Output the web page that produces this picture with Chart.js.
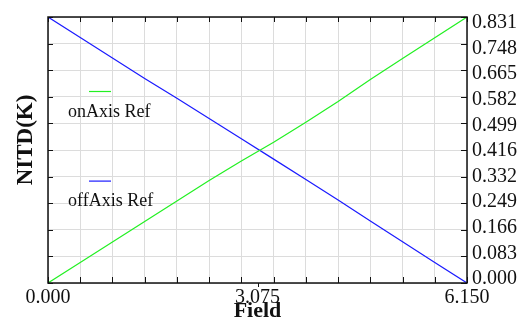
<!DOCTYPE html>
<html>
<head>
<meta charset="utf-8">
<script src="https://cdn.jsdelivr.net/npm/chart.js@4/dist/chart.umd.min.js"></script>
<style>
  html, body { margin: 0; padding: 0; background: #fff; }
  #wrap { width: 519px; height: 322px; }
</style>
</head>
<body>
<div id="wrap"><canvas id="c" width="519" height="322"></canvas></div>
<script>
// Field positions (sample points, 13 equal steps over 0 … 6.150)
const field = [0, 0.473, 0.946, 1.419, 1.892, 2.365, 2.838, 3.312, 3.785, 4.258, 4.731, 5.204, 5.677, 6.150];
// NITD(K) for each reference
const onAxisRef  = [0, 0.064, 0.128, 0.192, 0.256, 0.320, 0.381, 0.440, 0.502, 0.567, 0.636, 0.701, 0.766, 0.831];
const offAxisRef = [0.831, 0.767, 0.703, 0.639, 0.577, 0.514, 0.451, 0.387, 0.323, 0.259, 0.194, 0.129, 0.064, 0];

// Axis ticks
const xGridValues = field.slice();
const xLabelValues = [0, 3.075, 6.150];
const xLabels = ['0.000', '3.075', '6.150'];
const yTickValues = [0, 0.0831, 0.1662, 0.2493, 0.3324, 0.4155, 0.4986, 0.5817, 0.6648, 0.7479, 0.831];
const yTickLabels = ['0.000', '0.083', '0.166', '0.249', '0.332', '0.416', '0.499', '0.582', '0.665', '0.748', '0.831'];

const SERIF = '"Liberation Serif", "Times New Roman", serif';

const toPoints = ys => field.map((x, i) => ({ x: x, y: ys[i] }));

// Frame, inward tick marks, titles and the in-plot legend
const decor = {
  id: 'decor',
  afterDatasetsDraw(chart) {
    const { ctx, chartArea: a, scales } = chart;
    const xs = scales.x, ys = scales.y;
    ctx.save();
    ctx.strokeStyle = '#111';
    ctx.lineWidth = 1;
    ctx.beginPath();
    xGridValues.forEach(v => {
      const px = Math.round(xs.getPixelForValue(v)) + 0.5;
      ctx.moveTo(px, a.bottom); ctx.lineTo(px, a.bottom - 6);
      ctx.moveTo(px, a.top); ctx.lineTo(px, a.top + 5);
    });
    const mid = Math.round(xs.getPixelForValue(3.075)) + 0.5;
    ctx.moveTo(mid, a.bottom); ctx.lineTo(mid, a.bottom + 4);
    yTickValues.forEach(v => {
      const py = Math.round(ys.getPixelForValue(v)) + 0.5;
      ctx.moveTo(a.left, py); ctx.lineTo(a.left + 5, py);
      ctx.moveTo(a.right, py); ctx.lineTo(a.right - 6, py);
    });
    ctx.stroke();

    ctx.lineWidth = 1.5;
    ctx.strokeRect(a.left, a.top, a.right - a.left, a.bottom - a.top);

    // titles
    ctx.fillStyle = '#111';
    ctx.textAlign = 'center';
    ctx.textBaseline = 'alphabetic';
    ctx.font = 'bold 22px ' + SERIF;
    ctx.fillText('Field', (a.left + a.right) / 2, 317);
    ctx.save();
    ctx.font = 'bold 23px ' + SERIF;
    ctx.translate(32, 140);
    ctx.rotate(-Math.PI / 2);
    ctx.fillText('NITD(K)', 0, 0);
    ctx.restore();

    // legend
    ctx.font = '18px ' + SERIF;
    ctx.textAlign = 'left';
    chart.data.datasets.forEach((ds, i) => {
      const sy = a.top + 74.5 + i * 89.6;
      ctx.strokeStyle = ds.borderColor;
      ctx.lineWidth = 1.2;
      ctx.beginPath();
      ctx.moveTo(a.left + 41, sy); ctx.lineTo(a.left + 63, sy);
      ctx.stroke();
      ctx.fillStyle = '#111';
      ctx.fillText(ds.label, a.left + 20, sy + 25);
    });
    ctx.restore();
  }
};

new Chart(document.getElementById('c'), {
  type: 'line',
  data: {
    datasets: [
      { label: 'onAxis Ref', data: toPoints(onAxisRef), borderColor: '#22f022', borderWidth: 1.2, pointRadius: 0, tension: 0 },
      { label: 'offAxis Ref', data: toPoints(offAxisRef), borderColor: '#1a1aff', borderWidth: 1.2, pointRadius: 0, tension: 0 }
    ]
  },
  options: {
    responsive: false,
    animation: false,
    events: [],
    layout: { padding: { top: 14, left: 0, right: 0, bottom: 0 } },
    plugins: { legend: { display: false }, tooltip: { enabled: false } },
    scales: {
      x: {
        type: 'linear', min: 0, max: 6.150,
        afterBuildTicks: s => { s.ticks = xGridValues.concat([3.075]).sort((p, q) => p - q).map(v => ({ value: v })); },
        afterFit: s => { s.height = 39; },
        border: { display: false },
        grid: {
          drawTicks: false,
          color: c => (c.tick && Math.abs(c.tick.value - 3.075) < 1e-6) ? 'rgba(0,0,0,0)' : '#dcdcdc',
          lineWidth: 1
        },
        ticks: {
          padding: 3, color: '#111', maxRotation: 0, autoSkip: false,
          font: { family: SERIF, size: 20 },
          callback: v => { const k = xLabelValues.findIndex(t => Math.abs(t - v) < 1e-6); return k >= 0 ? xLabels[k] : ''; }
        }
      },
      y: {
        type: 'linear', position: 'left', min: 0, max: 0.831,
        afterBuildTicks: s => { s.ticks = yTickValues.map(v => ({ value: v })); },
        afterFit: s => { s.width = 48; },
        border: { display: false },
        grid: { drawTicks: false, color: '#dcdcdc', lineWidth: 1 },
        ticks: { display: false }
      },
      // label column: its range is a little wider so the labels sit slightly inside the frame ends
      y2: {
        type: 'linear', position: 'right', min: -0.0128, max: 0.8503,
        afterBuildTicks: s => { s.ticks = yTickValues.map(v => ({ value: v })); },
        afterFit: s => { s.width = 52; },
        border: { display: false },
        grid: { display: false, drawTicks: false },
        ticks: {
          padding: 5, color: '#111', autoSkip: false,
          font: { family: SERIF, size: 20 },
          callback: (v, i) => yTickLabels[i]
        }
      }
    }
  },
  plugins: [decor]
});
</script>
</body>
</html>
